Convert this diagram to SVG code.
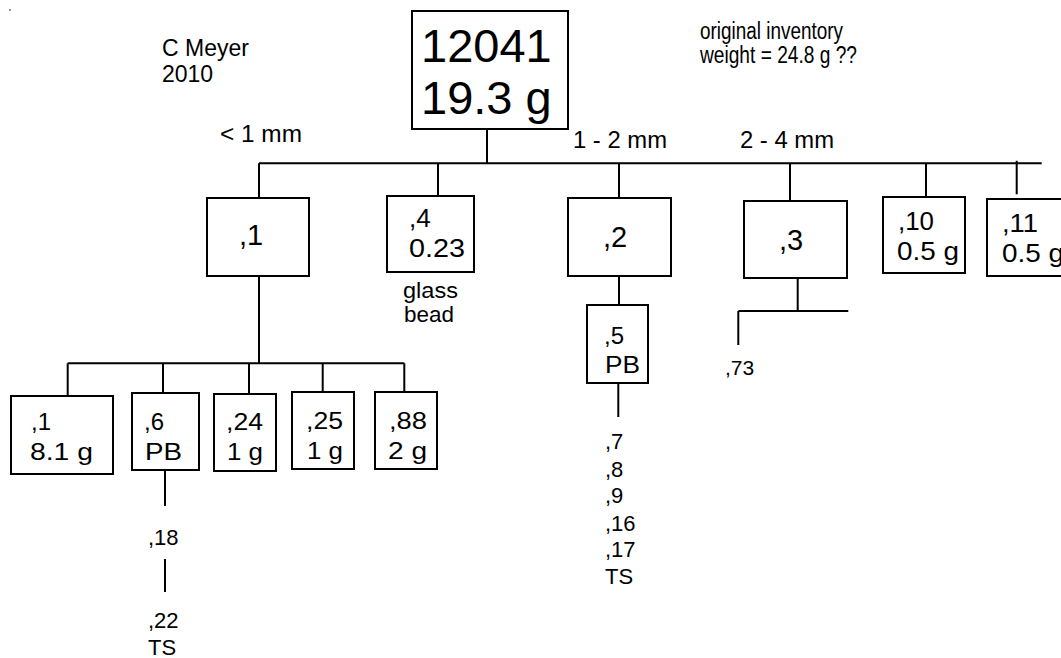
<svg xmlns="http://www.w3.org/2000/svg" width="1061" height="658" viewBox="0 0 1061 658">
<style>
.box{fill:#fff;stroke:#000;stroke-width:2}
.ln{stroke:#000;stroke-width:2;fill:none}
text{font-family:"Liberation Sans",Arial,sans-serif;fill:#000}
.big{font-size:47px}
.mid{font-size:29px}
.t{font-size:24px}
.s{font-size:22px}
.r{font-size:23px}
</style>
<rect width="1061" height="658" fill="#fff"/>
<rect x="9" y="9" width="2" height="2" fill="#999"/>
<g id="labels">
<text class="r" x="162" y="56">C Meyer</text>
<text class="r" x="162" y="82">2010</text>
<text class="r" x="700" y="39" textLength="143" lengthAdjust="spacingAndGlyphs">original inventory</text>
<text class="r" x="700" y="63" textLength="157" lengthAdjust="spacingAndGlyphs">weight = 24.8 g ??</text>
<text class="r" x="220" y="142" textLength="82" lengthAdjust="spacingAndGlyphs">&lt; 1 mm</text>
<text class="r" x="573" y="148" textLength="94" lengthAdjust="spacingAndGlyphs">1 - 2 mm</text>
<text class="r" x="740" y="148" textLength="94" lengthAdjust="spacingAndGlyphs">2 - 4 mm</text>
</g>
<g id="connectors">
<path class="ln" d="M259 163.3H1041.7M487 129V163.3M259 163.3V198M438 163.3V196M619 163.3V198M790 163.3V201M926 163.3V197M1016.7 160.7V194.3"/>
<path class="ln" d="M259 276V363.3M67.7 363.3H404.3M67.7 363.3V398M163 363.3V393M249 363.3V394M322.7 363.3V392M404.3 363.3V392"/>
<path class="ln" d="M619 276V305M618.3 383V417"/>
<path class="ln" d="M797.7 277V311M738.3 311H848.3M738.3 311V345"/>
<path class="ln" d="M165 470V506M165 559V592"/>
</g>
<g id="n12041">
<rect class="box" x="412" y="11" width="156" height="118"/>
<text class="big" x="421" y="62">12041</text>
<text class="big" x="421" y="114">19.3 g</text>
</g>
<g id="n1">
<rect class="box" x="207" y="198" width="102" height="78"/>
<text class="mid" x="239" y="245">,1</text>
</g>
<g id="n4">
<rect class="box" x="387" y="196" width="87" height="76"/>
<text class="t" x="409" y="227" style="font-size:26px">,4</text>
<text class="t" x="409" y="257" style="font-size:26px" textLength="56" lengthAdjust="spacingAndGlyphs">0.23</text>
<text class="s" x="403" y="298" textLength="55" lengthAdjust="spacingAndGlyphs">glass</text>
<text class="s" x="404" y="322" textLength="50" lengthAdjust="spacingAndGlyphs">bead</text>
</g>
<g id="n2">
<rect class="box" x="568" y="198" width="103" height="78"/>
<text class="mid" x="603" y="247">,2</text>
</g>
<g id="n3">
<rect class="box" x="744" y="201" width="103" height="77"/>
<text class="mid" x="779" y="250">,3</text>
</g>
<g id="n10">
<rect class="box" x="883" y="197" width="82" height="76"/>
<text class="t" x="898" y="230" style="font-size:25px" textLength="36" lengthAdjust="spacingAndGlyphs">,10</text>
<text class="t" x="897" y="260" style="font-size:25px" textLength="62" lengthAdjust="spacingAndGlyphs">0.5 g</text>
</g>
<g id="n11">
<rect class="box" x="987" y="199" width="82" height="77"/>
<text class="t" x="1002" y="232" style="font-size:25px" textLength="36" lengthAdjust="spacingAndGlyphs">,11</text>
<text class="t" x="1002" y="262" style="font-size:25px" textLength="62" lengthAdjust="spacingAndGlyphs">0.5 g</text>
</g>
<g id="n5">
<rect class="box" x="587" y="305" width="61" height="78"/>
<text class="t" x="604" y="344">,5</text>
<text class="t" x="605" y="373" textLength="35" lengthAdjust="spacingAndGlyphs">PB</text>
</g>
<g id="n5list">
<text class="s" x="605" y="449">,7</text>
<text class="s" x="605" y="477">,8</text>
<text class="s" x="605" y="503">,9</text>
<text class="s" x="605" y="531">,16</text>
<text class="s" x="605" y="557">,17</text>
<text class="s" x="605" y="584">TS</text>
</g>
<g id="n73">
<text class="s" x="725" y="375" style="font-size:21px">,73</text>
</g>
<g id="n1b">
<rect class="box" x="11" y="396" width="102" height="78"/>
<text class="t" x="31" y="430">,1</text>
<text class="t" x="30" y="460" textLength="63" lengthAdjust="spacingAndGlyphs">8.1 g</text>
</g>
<g id="n6">
<rect class="box" x="132" y="393" width="67" height="77"/>
<text class="t" x="144" y="430">,6</text>
<text class="t" x="145" y="460" textLength="37" lengthAdjust="spacingAndGlyphs">PB</text>
</g>
<g id="n24">
<rect class="box" x="214" y="394" width="62" height="77"/>
<text class="t" x="226" y="430" textLength="37" lengthAdjust="spacingAndGlyphs">,24</text>
<text class="t" x="227" y="460" textLength="36" lengthAdjust="spacingAndGlyphs">1 g</text>
</g>
<g id="n25">
<rect class="box" x="292" y="392" width="62" height="77"/>
<text class="t" x="306" y="429" textLength="37" lengthAdjust="spacingAndGlyphs">,25</text>
<text class="t" x="307" y="459" textLength="36" lengthAdjust="spacingAndGlyphs">1 g</text>
</g>
<g id="n88">
<rect class="box" x="375" y="392" width="62" height="77"/>
<text class="t" x="389" y="429" textLength="38" lengthAdjust="spacingAndGlyphs">,88</text>
<text class="t" x="388" y="459" textLength="39" lengthAdjust="spacingAndGlyphs">2 g</text>
</g>
<g id="n18">
<text class="s" x="148" y="545">,18</text>
<text class="s" x="148" y="628">,22</text>
<text class="s" x="148" y="655">TS</text>
</g>
</svg>
